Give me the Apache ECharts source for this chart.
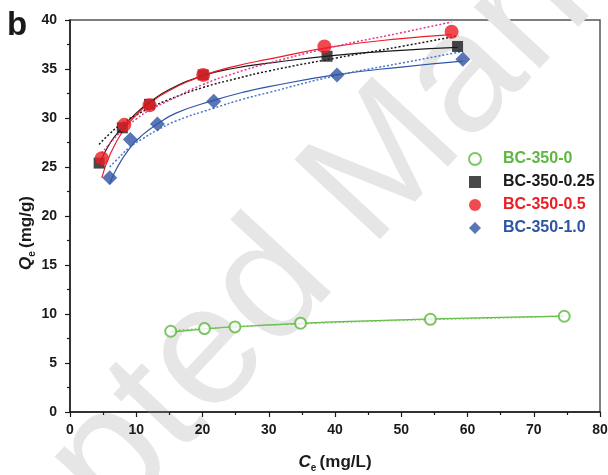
<!DOCTYPE html>
<html>
<head>
<meta charset="utf-8">
<script src="https://cdn.jsdelivr.net/npm/echarts@6/dist/echarts.min.js"></script>
<style>
  html, body { margin: 0; padding: 0; background: #fff; }
  #chart { width: 608px; height: 475px; }
</style>
</head>
<body>
<div id="chart"></div>
<script>
// measured points [Ce, Qe]
const bc0Pts = [[15.2, 8.24], [20.3, 8.51], [24.9, 8.68], [34.8, 9.06], [54.4, 9.46], [74.6, 9.77]]
const bc025Pts = [[4.4, 25.4], [7.9, 29.0], [12.0, 31.4], [20.1, 34.4], [38.8, 36.3], [58.5, 37.3]]
const bc05Pts = [[4.8, 25.9], [8.2, 29.3], [12.0, 31.3], [20.1, 34.4], [38.4, 37.3], [57.6, 38.8]]
const bc10Pts = [[6.0, 23.9], [9.1, 27.8], [13.2, 29.4], [21.7, 31.7], [40.3, 34.4], [59.3, 36.0]]

// fitted curves (solid / dotted)
const bc0Solid = [[15.2, 8.15], [20, 8.45], [25, 8.7], [35, 9.05], [45, 9.3], [55, 9.5], [65, 9.65], [74.6, 9.78]]
const bc0Dot = [[15.2, 8.3], [20, 8.5], [25, 8.7], [35, 9.0], [45, 9.25], [55, 9.45], [65, 9.6], [74.6, 9.78]]
const bc025Solid = [[4.4, 25.2], [6, 27.4], [8, 29.1], [10, 30.5], [12, 31.6], [15, 32.9], [20, 34.3], [25, 35.1], [30, 35.6], [40, 36.4], [50, 36.9], [58.5, 37.2]]
const bc025Dot = [[4.4, 27.3], [6, 28.4], [8, 29.5], [10, 30.3], [12, 31.0], [15, 31.9], [20, 33.1], [25, 34.0], [30, 34.8], [40, 36.1], [50, 37.3], [58.6, 38.4]]
const bc05Solid = [[4.8, 23.9], [6, 26.2], [8, 28.7], [10, 30.3], [12, 31.5], [15, 32.8], [20, 34.3], [25, 35.3], [30, 36.0], [40, 37.3], [50, 38.1], [57.6, 38.5]]
const bc05Dot = [[4.8, 26.4], [6, 27.4], [8, 28.8], [10, 29.9], [12, 30.8], [15, 31.8], [20, 33.4], [25, 34.6], [30, 35.6], [40, 37.3], [50, 38.7], [57.6, 39.8]]
const bc10Solid = [[6.0, 23.3], [7, 24.8], [9, 26.9], [11, 28.3], [13, 29.3], [16, 30.5], [21.7, 31.8], [26, 32.6], [30, 33.2], [40, 34.4], [50, 35.2], [59.3, 35.8]]
const bc10Dot = [[6.0, 25.0], [7, 25.7], [9, 27.0], [11, 27.9], [13, 28.7], [16, 29.7], [21.7, 31.0], [26, 31.9], [30, 32.6], [40, 34.3], [50, 35.6], [59.3, 36.8]]

const names = ['BC-350-0', 'BC-350-0.25', 'BC-350-0.5', 'BC-350-1.0']
const colors = ['#5cb840', '#1a1a1a', '#ee1c24', '#2e54a4']
const dotColors = ['#7cc860', '#1a1a1a', '#e8368f', '#4a78c8']

const font = 'Liberation Sans, Arial, Helvetica, sans-serif'

function fitLine(data, color, dotted) {
    return {
        type: 'line',
        data: data,
        smooth: true,
        showSymbol: false,
        silent: true,
        z: 2,
        lineStyle: { color: color, width: dotted ? 1.5 : 1.2, type: dotted ? [2, 2] : 'solid' }
    }
}

const axisName = {
    i: { fontFamily: font, fontWeight: 'bold', fontStyle: 'italic', fontSize: 17, color: '#1a1a1a' },
    s: { fontFamily: font, fontWeight: 'bold', fontSize: 10, color: '#1a1a1a', padding: [12, 0, 0, 0] },
    n: { fontFamily: font, fontWeight: 'bold', fontSize: 17, color: '#1a1a1a' }
}

const chart = echarts.init(document.getElementById('chart'))
const option = {
    animation: false,
    backgroundColor: '#fff',
    graphic: [
        {
            // watermark
            type: 'text',
            x: 362, y: 190,
            rotation: 47 * Math.PI / 180,
            z: 0,
            silent: true,
            style: {
                text: 'Accepted Manuscript',
                font: '170px ' + font,
                fill: '#e6e6e6',
                textAlign: 'center',
                textVerticalAlign: 'middle'
            }
        },
        {
            type: 'text',
            left: 7, top: 9,
            style: { text: 'b', font: 'bold 33px ' + font, fill: '#1a1a1a' }
        }
    ],
    grid: {
        left: 70, right: 8, top: 20, bottom: 63,
        outerBoundsMode: 'none',
        show: true,
        borderColor: '#555',
        borderWidth: 1.5,
        backgroundColor: 'transparent'
    },
    legend: {
        left: 463, top: 146,
        orient: 'vertical',
        itemGap: 7,
        itemWidth: 12,
        itemHeight: 12,
        textStyle: { fontFamily: font, fontWeight: 'bold', fontSize: 16, padding: [0, 0, 0, 17] },
        data: names.map((n, i) => ({ name: n, textStyle: { color: colors[i] } }))
    },
    xAxis: {
        type: 'value',
        min: 0, max: 80, interval: 10,
        name: '{i|C}{s|e} {n|(mg/L)}',
        nameLocation: 'middle',
        nameMoveOverlap: false,
        nameGap: 39,
        nameTextStyle: { rich: axisName },
        axisLine: { show: true, onZero: false, lineStyle: { color: '#1a1a1a', width: 1.5 } },
        axisTick: { show: true, inside: false, length: 5, lineStyle: { color: '#1a1a1a', width: 1.2 } },
        minorTick: { show: true, splitNumber: 2, length: 3, lineStyle: { color: '#1a1a1a', width: 1.2 } },
        axisLabel: { fontFamily: font, fontWeight: 'bold', fontSize: 14, color: '#1a1a1a', margin: 11 },
        splitLine: { show: false }
    },
    yAxis: {
        type: 'value',
        min: 0, max: 40, interval: 5,
        name: '{i|Q}{s|e} {n|(mg/g)}',
        nameLocation: 'middle',
        nameMoveOverlap: false,
        nameGap: 33,
        nameTextStyle: { rich: axisName, padding: [0, 34, 0, 0] },
        axisLine: { show: true, onZero: false, lineStyle: { color: '#1a1a1a', width: 1.5 } },
        axisTick: { show: true, inside: false, length: 5, lineStyle: { color: '#1a1a1a', width: 1.2 } },
        minorTick: { show: true, splitNumber: 2, length: 3, lineStyle: { color: '#1a1a1a', width: 1.2 } },
        axisLabel: { fontFamily: font, fontWeight: 'bold', fontSize: 14, color: '#1a1a1a', margin: 13 },
        splitLine: { show: false }
    },
    series: [
        fitLine(bc0Solid, colors[0], false),
        fitLine(bc0Dot, dotColors[0], true),
        fitLine(bc025Solid, colors[1], false),
        fitLine(bc025Dot, dotColors[1], true),
        fitLine(bc05Solid, colors[2], false),
        fitLine(bc05Dot, dotColors[2], true),
        fitLine(bc10Solid, colors[3], false),
        fitLine(bc10Dot, dotColors[3], true),
        {
            name: names[0], type: 'scatter', data: bc0Pts, z: 3,
            symbol: 'emptyCircle', symbolSize: 11,
            itemStyle: { color: colors[0], borderColor: colors[0], borderWidth: 1.3 }
        },
        {
            name: names[1], type: 'scatter', data: bc025Pts, z: 3,
            symbol: 'rect', symbolSize: 11,
            itemStyle: { color: colors[1] }
        },
        {
            name: names[2], type: 'scatter', data: bc05Pts, z: 4,
            symbol: 'circle', symbolSize: 14,
            itemStyle: { color: colors[2] }
        },
        {
            name: names[3], type: 'scatter', data: bc10Pts, z: 4,
            symbol: 'diamond', symbolSize: 15,
            itemStyle: { color: colors[3] }
        }
    ]
}
chart.setOption(option)
window.addEventListener('resize', () => { chart.resize() })
</script>
</body>
</html>
